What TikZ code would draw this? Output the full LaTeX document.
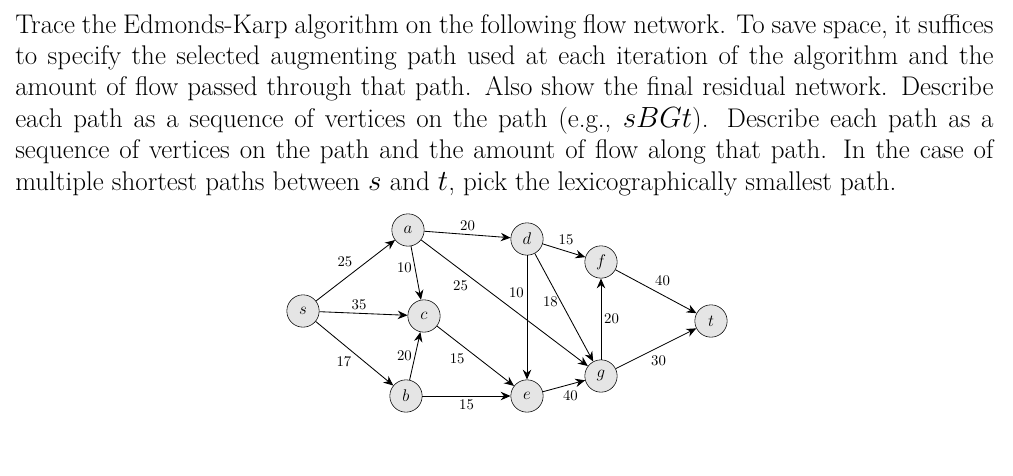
\documentclass[tikz,border=0pt]{standalone}
\usetikzlibrary{arrows.meta}
\begin{document}
\tikzstyle{vertex}=[circle,draw,fill=black!10,minimum size=23pt,inner sep=0pt,font=\fontsize{12}{14}\selectfont]
\tikzstyle{edge} = [draw,semithick,-{Stealth[length=7pt,width=6pt]}]
\tikzstyle{weight} = [font=\fontsize{10.5}{12}\selectfont,inner sep=2pt]
\begin{tikzpicture}[x=0.025cm,y=-0.025cm]
     \useasboundingbox (0,0) rectangle (1013,475);
     \node[anchor=north west,inner sep=0pt,text width=24.45cm,align=justify,
       font=\fontsize{19.2}{22.3}\selectfont] (task) at (15,14)
       {Trace the Edmonds-Karp algorithm on the following flow network. To save space, it suffices to specify the selected augmenting path used at each iteration of the algorithm and the amount of flow passed through that path. Also show the final residual network. Describe each path as a sequence of vertices on the path (e.g., $sBGt$). Describe each path as a sequence of vertices on the path and the amount of flow along that path. In the case of multiple shortest paths between $s$ and $t$, pick the lexicographically smallest path.\par};
     % First we draw the vertices
     \foreach \pos/\name in {{(303,311)/s}, {(408,230)/a}, {(424,316)/c},
       {(406,396)/b}, {(527,239)/d}, {(527,396)/e}, {(601,262)/f},
       {(601,376)/g}, {(711,321)/t}}
     \node[vertex] (\name) at \pos {$\name$};
     % Connect vertices with edges and draw weights
     \path[edge] (s) -- node[weight,above left] {25} (a);
     \path[edge] (s) -- node[weight,above,pos=.45] {35} (c);
     \path[edge] (s) -- node[weight,below left] {17} (b);
     \path[edge] (a) -- node[weight,left,pos=.4] {10} (c);
     \path[edge] (a) -- node[weight,above] {20} (d);
     \path[edge] (a) -- node[weight,below left,pos=.3] {25} (g);
     \path[edge] (b) -- node[weight,left] {20} (c);
     \path[edge] (c) -- node[weight,below left,pos=.4] {15} (e);
     \path[edge] (b) -- node[weight,below] {15} (e);
     \path[edge] (d) -- node[weight,left,pos=.3] {10} (e);
     \path[edge] (d) -- node[weight,left,pos=.45] {18} (g);
     \path[edge] (d) -- node[weight,above right,pos=.3] {15} (f);
     \path[edge] (e) -- node[weight,below right,pos=.4] {40} (g);
     \path[edge] (f) -- node[weight,above right,pos=.45] {40} (t);
     \path[edge] (g) -- node[weight,right] {20} (f);
     \path[edge] (g) -- node[weight,below right,pos=.4] {30} (t);
\end{tikzpicture}
\end{document}
